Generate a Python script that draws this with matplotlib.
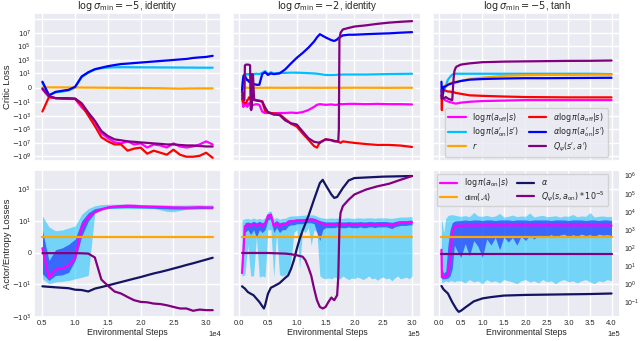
import matplotlib.pyplot as plt
import numpy as np
import seaborn as sns

# ---------------- data ----------------
# column 1 : log sigma_min = -5, identity
steps_a = [5000, 6000, 7000, 8000, 9000, 10000, 11000, 12000, 13000, 14000,
           15000, 16000, 17000, 18000, 19000, 20000, 21000, 22000, 23000, 24000,
           25000, 26000, 27000, 28000, 29000, 30000, 31000]
a_logpi_off = [-0.2, -1.8, -2.6, -3, -3.4, -3.4, -60, -480, -8e3, -3.6e5, -2e6, -8e6, -1.2e7, -6e6,
               -1.7e7, -1.2e7, -4.8e7, -1.7e7, -2.4e7, -4.8e7, -1.2e7, -3.4e7, -4.8e7, -3.4e7,
               -1.7e7, -6e6, -1.7e7]
a_logpi_on = [0.7, -1, -0.6, -0.5, -0.35, 0.05, 3, 13, 38, 60, 75, 80, 82, 82, 80, 80, 78, 78,
              76, 76, 74, 74, 72, 72, 70, 70, 70]
a_r = [0.05, 0.05, 0.05, 0.05, 0.04, 0.04, 0.03, 0.02, 0.02, 0.01, 0.0, 0.0, -0.01, -0.02,
       -0.03, -0.03, -0.04, -0.05, -0.06, -0.08, -0.1, -0.12, -0.1, -0.09, -0.08, -0.08, -0.08]
a_alpha_off = [-240, -1.8, -2.6, -3, -3.4, -3.4, -30, -960, -3.2e4, -1.5e6, -6e6, -1.7e7, -1.7e7,
               -1.4e8, -7e7, -5e7, -3.9e8, -1.4e8, -2.8e8, -5.5e8, -1e8, -5.5e8, -1.1e9, -1.1e9,
               -8e8, -2.8e8, -1.6e9]
a_alpha_on = [0.8, -1, -0.55, -0.4, -0.27, 0.14, 3.6, 15, 42, 70, 117, 170, 240, 280, 340, 400,
              480, 570, 680, 800, 960, 1150, 1350, 1900, 2300, 2700, 3900]
a_q = [-0.1, -1.3, -2.6, -2.6, -2.6, -3, -15, -340, -5.5e3, -1.8e5, -1e6, -3e6, -4.2e6, -6e6,
       -7e6, -8.5e6, -1e7, -1.2e7, -1.4e7, -1.7e7, -1.7e7, -2e7, -2.4e7, -2.4e7, -2.9e7,
       -3.4e7, -3.4e7]

a_pi_on = [0.3, -3.8, -1.2, -1.1, -0.8, -0.35, 4.3, 17, 35, 53, 70, 80, 85, 90, 88, 82, 80, 78,
           76, 74, 70, 70, 68, 70, 72, 70, 70]
a_light_hi = [21, 4.5, 2.6, 2.9, 3.8, 5.2, 27, 59, 90, 105, 110, 110, 112, 112, 110, 108, 105,
              102, 100, 100, 98, 98, 100, 102, 102, 100, 100]
a_light_lo = [-4.5, -9, -7, -6.5, -5.7, -4.5, -3.6, -2.8, 33, 45, 60, 60, 60, 60, 60, 60, 60,
              60, 50, 40, 38, 45, 55, 55, 55, 55, 55]
a_dark_hi = [2.6, -0.5, 0.2, 0.32, 0.55, 0.9, 10.4, 33, 59, 70, 85, 88, 90, 92, 90, 88, 86, 84,
             82, 80, 78, 78, 78, 80, 82, 80, 80]
a_dark_lo = [-2.2, -5.7, -2.8, -2.6, -1.8, -0.5, 1.2, 10, 33, 50, 62, 65, 68, 70, 68, 66, 64,
             62, 60, 58, 56, 56, 56, 58, 60, 60, 60]
a_dim = 1.1
a_alpha = [-13, -14, -15, -16, -17, -21, -22, -27, -18, -14.5, -11.5, -9, -7.1, -5.6, -4.4,
           -3.5, -2.7, -2.1, -1.7, -1.35, -1.05, -0.91, -0.79, -0.68, -0.56, -0.44, -0.32]
a_q_on = [-0.02, -0.02, -0.02, -0.02, -0.02, -0.02, -0.03, -0.05, -0.3, -5, -12, -27, -36, -59,
          -93, -118, -125, -150, -160, -190, -240, -300, -300, -415, -350, -380, -380]

# column 2 : log sigma_min = -2, identity  (steps in units of 1e5)
steps_b = [0.05, 0.07, 0.08, 0.10, 0.12, 0.13, 0.14, 0.16, 0.17, 0.18, 0.20, 0.25, 0.30, 0.35,
           0.40, 0.45, 0.50, 0.55, 0.60, 0.70, 0.80, 0.90, 1.00, 1.10, 1.20, 1.30, 1.35, 1.40,
           1.50, 1.60, 1.65, 1.70, 1.72, 1.74, 1.76, 1.80, 1.90, 2.00, 2.20, 2.40, 2.60, 2.80, 3.00]
b_logpi_off = [-1, -50, -40, -30, -15, -20, -50, -20, -15, -20, -30, -25, -20, -25, -250, -400,
               -400, -400, -450, -400, -400, -350, -400, -300, -150, -50, -25, -20, -25, -22,
               -25, -25, -22, -22, -20, -20, -18, -18, -20, -18, -20, -20, -22]
b_logpi_on = [-0.5, 3, 5, 8, 6, 8, 8, 7, 8, 7, 8, 8, 9, 8, 12, 22, 8, 15, 10, 12, 12, 13, 13, 12,
              11, 10, 9, 8, 6, 6, 6, 6.5, 6.5, 6.5, 6.5, 7, 7, 7, 7, 7.5, 8, 8.5, 9]
b_r = [0.0, 0.01, 0.0, -0.01, 0.0, 0.01, 0.0, 0.0, -0.01, 0.0, 0.0, 0.01, 0.0, 0.0, -0.01, 0.0,
       0.0, 0.01, 0.0, 0.0, -0.01, 0.0, 0.0, 0.01, 0.0, 0.0, 0.0, -0.01, 0.0, 0.0, 0.01, 0.0,
       0.0, 0.0, -0.01, 0.0, 0.0, 0.01, 0.0, 0.0, -0.01, 0.0, 0.0]
b_alpha_off = [-3, -9, -10, -15, -12, -10, -5, -4, -2, -2.5, -3, -4, -5, -6, -8, -200, -300, -400,
               -450, -600, -3e3, -1.5e4, -4e4, -4e5, -3.3e6, -3e7, -5e7, -8e6, -3e6, -4e6, -5e6,
               -6e6, -7e6, -8e6, -1e7, -6e6, -8e6, -1e7, -1.5e7, -2e7, -2e7, -2.5e7, -4e7]
b_alpha_on = [-0.3, 2, 5, 4, 2, 1.5, 1, 1, 0.8, 0.8, 0.7, 0.5, 0.4, 0.4, 8, 15, 6, 10, 8, 10, 40,
              300, 2e3, 1e4, 6e4, 5e5, 2e6, 6e6, 2e6, 8e5, 6e5, 1e6, 1.5e6, 2e6, 2.5e6, 4e6, 5e6,
              5e6, 6e6, 7e6, 8e6, 1e7, 1.2e7]
steps_b_q = [0.05, 0.07, 0.09, 0.10, 0.12, 0.15, 0.18, 0.19, 0.20, 0.21, 0.22, 0.23, 0.24, 0.26,
             0.30, 0.40, 0.45, 0.50, 0.60, 0.70, 0.80, 0.90, 1.00, 1.10, 1.20, 1.30, 1.40, 1.50,
             1.60, 1.65, 1.70, 1.72, 1.73, 1.74, 1.76, 1.80, 1.90, 2.00, 2.20, 2.40, 2.60, 2.80,
             3.00]
b_q = [-0.5, -3, -5, 150, 200, 200, 180, 150, -100, -150, -60, 8, 6, -5, -6, -8, -60, -300, -700,
       -800, -5e3, -1.3e4, -2e4, -2e5, -2e6, -7e6, -1e7, -3e6, -4e6, -6e6, -6e6, -6e6, -1e5, 1e6,
       1e7, 3e7, 5e7, 8e7, 1.2e8, 2e8, 3e8, 4e8, 5e8]

steps_b2 = [0.05, 0.10, 0.15, 0.20, 0.25, 0.30, 0.35, 0.40, 0.45, 0.50,
            0.55, 0.60, 0.65, 0.70, 0.75, 0.80, 0.85, 0.90, 0.95, 1.00,
            1.05, 1.10, 1.15, 1.20, 1.25, 1.30, 1.35, 1.40, 1.45, 1.50,
            1.55, 1.60, 1.65, 1.70, 1.75, 1.80, 1.85, 1.90, 1.95, 2.00,
            2.05, 2.10, 2.15, 2.20, 2.25, 2.30, 2.35, 2.40, 2.45, 2.50,
            2.55, 2.60, 2.65, 2.70, 2.75, 2.80, 2.85, 2.90, 2.95, 3.00]
b_pi_on = [-2, 5, 6, 5, 7, 5, 7, 5, 7, 22,
           25, 5, 8, 5, 6, 6, 9, 10, 10, 11,
           11, 11, 12, 12, 13, 12, 10, 8, 7, 6,
           6, 6, 6, 6.5, 6, 6, 6, 6.5, 6, 6,
           6, 6.5, 6, 6, 6.5, 6.5, 6, 6.5, 6.5, 6.5,
           6.5, 6, 5.5, 6.5, 7.5, 8, 8, 8, 8.5, 8.5]
b_dark_hi = [-0.5, 8, 9, 8, 10, 8, 10, 8, 10, 28,
             32, 8, 11, 8, 9, 9, 12, 13, 13, 14,
             14, 14, 15, 15, 16, 15, 13, 11, 10, 9,
             9, 9, 9, 9.5, 9, 9, 9, 9.5, 9, 9,
             9, 9.5, 9, 9, 9.5, 9.5, 9, 9.5, 9.5, 9.5,
             9.5, 9, 8.5, 9.5, 10.5, 11, 11, 11, 11.5, 11.5]
b_dark_lo = [-3, 2, 3, 1.5, 3, 1, 3, 2, 3, 12,
             14, 2, 4, 2, 3, 3, 5, 6, 6, 7,
             7, 7, 8, 8, 8, 7, 2, 0.8, 3, 4,
             4, 4, 4, 4.5, 4, 4, 4, 4.5, 4, 4,
             4, 4.5, 4, 4, 4.5, 4.5, 4, 4.5, 4.5, 4.5,
             4.5, 4, 3.5, 4.5, 5, 5.5, 5.5, 5.5, 6, 6]
b_light_hi = [12, 14, 15, 13, 16, 13, 15, 13, 16, 40,
              42, 14, 17, 13, 15, 15, 19, 21, 21, 22,
              22, 23, 24, 24, 25, 24, 20, 17, 16, 15,
              15, 16, 15, 16, 15, 15, 16, 16, 15, 15,
              16, 16, 15, 16, 16, 16, 15, 16, 16, 16,
              16, 15, 15, 16, 17, 18, 18, 18, 19, 19]
b_light_lo = [-3, -2.5, 0.5, -3, -3, 1, -3.5, -3, -3.5, 3,
              3, -3.5, 2, -2.5, -3, -2.5, -2, -0.5, 2, 3,
              -1, 3, 2, 4, 0.5, 3, 2, -3, -4, -4.5,
              -4, -4.5, -3.5, -4, -4.5, -3, -4, -5, -4, -4.5,
              -3.5, -4, -5, -4, -3, -4.5, -4, -5.5, -4, -3.5,
              -4.5, -4, -6, -4, -3, -4.5, -4, -3.5, -4.5, -3]
b_dim = 1.1
steps_b_alpha = [0.05, 0.10, 0.15, 0.20, 0.25, 0.30, 0.35, 0.40, 0.43, 0.45, 0.50, 0.55, 0.60,
                 0.70, 0.75, 0.80, 0.85, 0.90, 0.95, 1.00, 1.05, 1.10, 1.20, 1.30, 1.40, 1.45,
                 1.50, 1.60, 1.65, 1.70, 1.80, 1.90, 2.00, 2.50, 3.00]
b_alpha = [-13, -18, -29, -37, -46, -74, -118, -215, -300, -190, -37, -16, -13, -8.3, -5.7, -3.9,
           -2.8, -1.1, -0.48, 0.26, 0.9, 2.6, 20, 220, 2200, 3500, 1700, 440, 270, 310, 1100,
           3200, 4500, 5500, 6000]
steps_b_qon = [0.05, 0.50, 0.80, 0.90, 1.00, 1.10, 1.15, 1.20, 1.25, 1.30, 1.35, 1.40, 1.45, 1.50,
               1.55, 1.60, 1.65, 1.70, 1.72, 1.74, 1.76, 1.80, 1.90, 2.00, 2.20, 2.40, 2.60, 2.80,
               3.00]
b_q_on = [-0.01, -0.01, -0.05, -0.09, -0.16, -0.25, -0.48, -0.94, -2.8, -18, -93, -240, -300, -240,
          -118, -64, -93, -46, -3.6, 5.2, 33, 85, 210, 440, 880, 1400, 2000, 3500, 6000]

# column 3 : log sigma_min = -5, tanh  (steps in units of 1e5)
steps_c = [0.05, 0.06, 0.07, 0.10, 0.15, 0.20, 0.25, 0.30, 0.33, 0.35, 0.38, 0.40, 0.50, 0.70,
           1.00, 1.50, 2.00, 2.50, 3.00, 3.50, 4.00]
c_logpi_off = [-1, -1, -1.5, -3, -6, -8, -10, -12, -14, -15, -16, -16, -12, -9, -7, -6, -5, -5,
               -5, -5, -5]
c_logpi_on = [-1.5, -1.4, -1.2, -0.6, 0.3, 1.2, 3, 7, 8, 8.5, 9, 9, 9, 9, 9, 9, 9, 9, 9, 9, 8]
c_r = [0, 0.05, 0.1, 0.2, 0.35, 0.5, 0.6, 0.7, 0.75, 0.78, 0.8, 0.8, 0.9, 1.5, 2.4, 4.5, 5.5, 6,
       6, 6.5, 6.5]
c_alpha_off = [-1, -150, -0.5, -0.3, -0.4, -0.5, -0.5, -0.6, -0.6, -0.6, -0.7, -0.7, -0.8, -1.0,
               -1.2, -1.5, -1.8, -1.9, -2, -2, -2]
c_alpha_on = [0.8, -3, -1.8, 0.1, 0.2, 0.4, 0.5, 0.6, 0.65, 0.7, 0.72, 0.75, 0.9, 1.2, 1.5, 1.8,
              2, 2, 2.1, 2.2, 2.3]
c_q = [-0.3, -1, -1.8, -3, -1.8, -3, -4, -5, 1.4, 22, 70, 100, 200, 300, 450, 550, 600, 650,
       700, 720, 800]

steps_c2 = [0.05, 0.06, 0.10, 0.15, 0.20, 0.25, 0.30, 0.35, 0.40, 0.50, 0.60, 0.70, 0.80, 0.90,
            1.00, 1.10, 1.20, 1.30, 1.40, 1.50, 1.60, 1.70, 1.80, 1.90, 2.00, 2.10, 2.20, 2.30,
            2.40, 2.50, 2.60, 2.70, 2.80, 2.90, 3.00, 3.10, 3.20, 3.30, 3.40, 3.50, 3.60, 3.70,
            3.80, 3.90, 4.00]
c_pi_on = [0.2, -3.6, -3.6, -3.4, -2.2, -0.5, 2, 4.1, 5.2,
           5.3, 5.4, 5.4, 5.5, 5.5, 5.5, 5.6, 5.5, 5.6, 5.6, 5.5, 5.6, 5.6, 5.5, 5.6, 5.6, 5.5,
           5.5, 5.6, 5.6, 5.5, 5.6, 5.6, 5.5, 5.5, 5.6, 5.5, 5.5, 5.6, 5.5, 5.5, 5.6, 5.5, 5.5,
           5.5, 5.4]
c_light_hi = [10, 12, 2, 15, 22, 25, 25, 24, 22,
              20, 22, 19, 35, 21, 20, 23, 19, 21, 30, 18, 20, 24, 19, 21, 20, 32, 18, 21, 23,
              19, 20, 22, 18, 21, 20, 26, 19, 21, 20, 34, 18, 20, 21, 19, 20]
c_light_lo = [-5, -8, -7, -6, -7, -6, -6, -7, -6,
              -6, -8, -5, -7, -6, -9, -5, -7, -6, -8, -5, -6, -7, -9, -6, -5, -7, -6, -8, -5,
              -7, -6, -9, -6, -5, -7, -6, -8, -6, -5, -7, -9, -6, -7, -5, -6]
c_dark_hi = [1, -1, -2, -1.5, 0.5, 3, 8, 10, 10.5,
             11, 12, 11, 12, 12, 11, 12, 12, 11, 12, 12, 12, 11, 12, 12, 12, 11, 12, 12, 12,
             12, 11, 12, 12, 12, 11, 12, 12, 12, 11, 12, 12, 11, 12, 12, 11]
c_dark_lo = [-4, -4.5, -4.5, -4.5, -4, -3, -1, 0.5, 0.2,
             -0.3, 0.6, -0.2, 0.8, 0.4, -0.3, 0.9, 0.5, 1.0, 0.2, 1.1, 0.7, 1.0, 0.5, 1.2, 0.8,
             1.3, 0.9, 1.4, 1.0, 1.2, 1.5, 1.0, 1.4, 1.6, 1.1, 1.5, 1.2, 1.6, 1.3, 1.5, 1.1,
             1.6, 1.4, 1.5, 1.3]
c_dim = 1.1
c_q_on = -0.06
steps_c_alpha = [0.05, 0.10, 0.20, 0.30, 0.40, 0.45, 0.50, 0.60, 0.80, 1.00, 1.20, 1.50, 2.00,
                 2.50, 3.00, 3.50, 4.00]
c_alpha = [0.78, 0.5, 0.3, 0.1, 0.04, 0.029, 0.033, 0.05, 0.11, 0.16, 0.19, 0.23, 0.25, 0.26,
           0.27, 0.28, 0.3]

titles = [r"$\log\sigma_{\min}=-5$, identity", r"$\log\sigma_{\min}=-2$, identity",
          r"$\log\sigma_{\min}=-5$, tanh"]

# ---------------- style ----------------
sns.set_theme(style="darkgrid")
plt.rcParams["font.family"] = ["Liberation Sans", "DejaVu Sans"]
plt.rcParams["xtick.labelsize"] = 5.5
plt.rcParams["ytick.labelsize"] = 5
plt.rcParams["xtick.major.pad"] = 2
plt.rcParams["ytick.major.pad"] = 2
plt.rcParams["axes.labelsize"] = 6.8
plt.rcParams["axes.titlesize"] = 7
plt.rcParams["legend.fontsize"] = 6

MAG, SKY, ORA, RED, BLU, PUR, NAV = ("#ff00ff", "#00bfff", "#ffa500", "#ff0000",
                                     "#0000ff", "#800080", "#141464")
LW = 1.6

fig, axes = plt.subplots(2, 3, figsize=(6.4, 3.41), dpi=100, sharex="col")
fig.subplots_adjust(left=0.053, right=0.969, top=0.962, bottom=0.070,
                    wspace=0.065, hspace=0.061)

top_data = [
    (steps_a, 1.0, a_logpi_off, a_logpi_on, a_r, a_alpha_off, a_alpha_on, steps_a, a_q),
    (steps_b, 1e5, b_logpi_off, b_logpi_on, b_r, b_alpha_off, b_alpha_on, steps_b_q, b_q),
    (steps_c, 1e5, c_logpi_off, c_logpi_on, c_r, c_alpha_off, c_alpha_on, steps_c, c_q),
]

top_ticks = [1e9, 1e7, 1e5, 1e3, 1e1, 0, -1e1, -1e3, -1e5, -1e7, -1e9]
top_labels = ["", r"$10^{7}$", r"$10^{5}$", r"$10^{3}$", r"$10^{1}$", "0", r"$-10^{1}$",
              r"$-10^{3}$", r"$-10^{5}$", r"$-10^{7}$", r"$-10^{9}$"]

for j, (xs, sc, lpo, lpn, rr, ao, an, xq, qq) in enumerate(top_data):
    ax = axes[0, j]
    x = np.array(xs) * sc
    ax.plot(x, lpo, color=MAG, lw=LW, label=r"$\log\pi(a_{\rm off}|s)$")
    ax.plot(x, lpn, color=SKY, lw=LW, label=r"$\log\pi(a^{\prime}_{\rm on}|s^{\prime})$")
    ax.plot(x, rr, color=ORA, lw=LW, label=r"$r$")
    ax.plot(x, ao, color=RED, lw=LW, label=r"$\alpha\log\pi(a_{\rm off}|s)$")
    ax.plot(x, an, color=BLU, lw=LW, label=r"$\alpha\log\pi(a^{\prime}_{\rm on}|s^{\prime})$")
    ax.plot(np.array(xq) * sc, qq, color=PUR, lw=LW, label=r"$Q_{\psi}(s^{\prime},a^{\prime})$")
    ax.set_yscale("symlog", linthresh=1, linscale=1)
    ax.set_ylim(-4e9, 8e9)
    ax.set_yticks(top_ticks, top_labels)
    ax.tick_params(which="both", length=0)
    ax.set_title(titles[j], pad=3)
    if j > 0:
        ax.tick_params(labelleft=False)
axes[0, 0].set_ylabel("Critic Loss")
axes[0, 0].yaxis.set_label_coords(-0.118, 0.5)
axes[0, 2].legend(loc="lower center", ncol=2, handlelength=2.2, columnspacing=1.2,
                  borderpad=0.35, labelspacing=0.2, fontsize=5.8)

bot_ticks = [1e3, 1e1, 0, -1e1, -1e3]
bot_labels = [r"$10^{3}$", r"$10^{1}$", "0", r"$-10^{1}$", r"$-10^{3}$"]


def bands(ax, x, lhi, llo, dhi, dlo, mean):
    ax.fill_between(x, llo, lhi, color=SKY, alpha=0.5, lw=0)
    ax.fill_between(x, dlo, dhi, color=BLU, alpha=0.5, lw=0)
    return ax.plot(x, mean, color=MAG, lw=LW, label=r"$\log\pi(a_{\rm on}|s)$")[0]


# bottom left
ax = axes[1, 0]
x = np.array(steps_a)
bands(ax, x, a_light_hi, a_light_lo, a_dark_hi, a_dark_lo, a_pi_on)
ax.plot(x, [a_dim] * len(x), color=ORA, lw=LW)
ax.plot(x, a_alpha, color=NAV, lw=LW)
ax.plot(x, a_q_on, color=PUR, lw=LW)

# bottom middle
ax = axes[1, 1]
x = np.array(steps_b2) * 1e5
bands(ax, x, b_light_hi, b_light_lo, b_dark_hi, b_dark_lo, b_pi_on)
ax.plot(x, [b_dim] * len(x), color=ORA, lw=LW)
ax.plot(np.array(steps_b_alpha) * 1e5, b_alpha, color=NAV, lw=LW)
ax.plot(np.array(steps_b_qon) * 1e5, b_q_on, color=PUR, lw=LW)

# bottom right
ax = axes[1, 2]
x = np.array(steps_c2) * 1e5
h_pi = bands(ax, x, c_light_hi, c_light_lo, c_dark_hi, c_dark_lo, c_pi_on)
h_dim, = ax.plot(x, [c_dim] * len(x), color=ORA, lw=LW, label=r"dim$(\mathcal{A})$")
h_q, = ax.plot(x, [c_q_on] * len(x), color=PUR, lw=LW,
               label=r"$Q_{\psi}(s,a_{\rm on})*10^{-5}$")
tw = ax.twinx()
h_al, = tw.plot(np.array(steps_c_alpha) * 1e5, c_alpha, color=NAV, lw=LW, label=r"$\alpha$")
tw.set_yscale("log")
tw.set_ylim(10 ** -1.83, 10 ** 6.33)
tw.grid(False)
tw.tick_params(axis="y", which="both", length=0, labelsize=5, pad=3)
tw.xaxis.get_offset_text().set_visible(False)
tw.legend(handles=[h_pi, h_dim, h_al, h_q], loc="upper left", ncol=2, handlelength=2.2,
          columnspacing=1.0, borderpad=0.35, labelspacing=0.2, fontsize=5.8)

for j in range(3):
    ax = axes[1, j]
    ax.set_yscale("symlog", linthresh=1, linscale=0.85)
    ax.set_ylim(-1.02e3, 1.5e4)
    ax.set_yticks(bot_ticks, bot_labels)
    ax.tick_params(which="both", length=0)
    if j > 0:
        ax.tick_params(labelleft=False)
    ax.set_xlabel("Environmental Steps", fontsize=6.3, labelpad=1)
    ax.ticklabel_format(axis="x", style="sci", scilimits=(0, 0))
axes[1, 0].set_ylabel("Actor/Entropy Losses")
axes[1, 0].yaxis.set_label_coords(-0.118, 0.5)

axes[1, 0].set_xticks([5000, 10000, 15000, 20000, 25000, 30000])
axes[1, 1].set_xticks([0, 50000, 100000, 150000, 200000, 250000, 300000])
axes[1, 2].set_xticks([0, 50000, 100000, 150000, 200000, 250000, 300000, 350000, 400000])
axes[1, 1].set_xlim(-10000, 315000)
axes[1, 2].set_xlim(-15000, 420000)

fig.savefig("out.png", dpi=100)
